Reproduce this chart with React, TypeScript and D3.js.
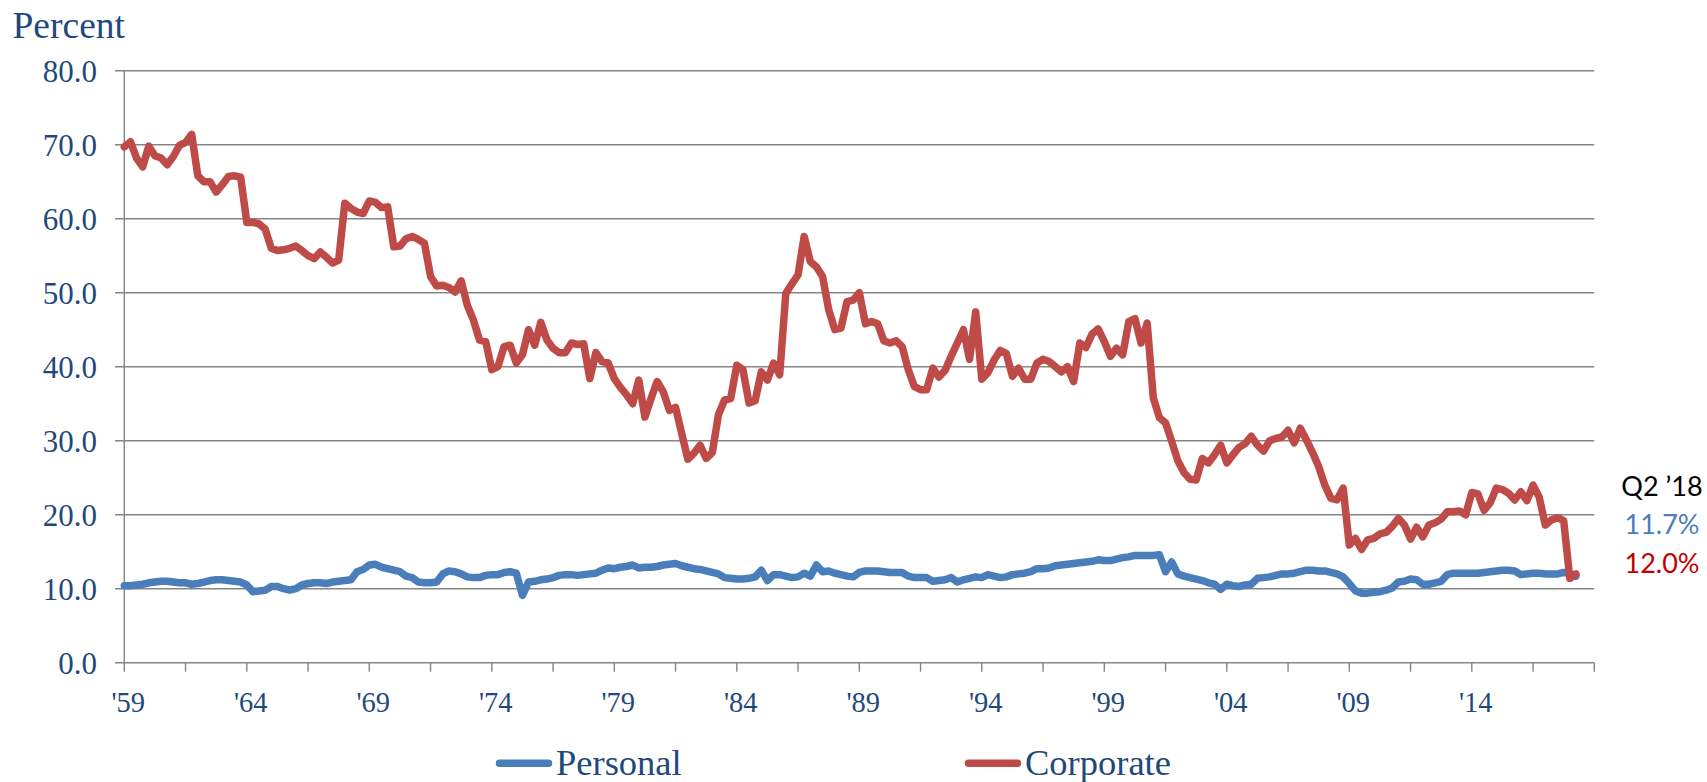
import React from "react";
import * as d3 from "d3";

// Quarterly effective tax rates, 1959 Q1 through 2018 Q2 (percent)
const personalRates: number[] = [
  10.4, 10.4, 10.5, 10.6, 10.8, 10.9, 11.0, 11.0, 10.9, 10.8,
  10.8, 10.6, 10.7, 10.9, 11.1, 11.2, 11.2, 11.1, 11.0, 10.9,
  10.5, 9.6, 9.7, 9.8, 10.3, 10.3, 10.0, 9.8, 10.0, 10.5,
  10.7, 10.8, 10.8, 10.7, 10.9, 11.0, 11.1, 11.2, 12.3, 12.6,
  13.2, 13.3, 12.9, 12.7, 12.5, 12.3, 11.7, 11.5, 10.9, 10.8,
  10.8, 10.9, 12.0, 12.4, 12.3, 12.0, 11.6, 11.5, 11.5, 11.8,
  11.9, 11.9, 12.2, 12.3, 12.1, 9.1, 10.9, 11.0, 11.2, 11.3,
  11.5, 11.8, 11.9, 11.9, 11.8, 11.9, 12.0, 12.1, 12.5, 12.8,
  12.7, 12.9, 13.0, 13.2, 12.8, 12.9, 12.9, 13.0, 13.2, 13.3,
  13.4, 13.1, 12.9, 12.7, 12.6, 12.4, 12.2, 12.0, 11.5, 11.4,
  11.3, 11.3, 11.4, 11.6, 12.5, 11.1, 11.9, 11.9, 11.7, 11.5,
  11.6, 12.1, 11.7, 13.2, 12.3, 12.4, 12.1, 11.9, 11.7, 11.6,
  12.2, 12.4, 12.4, 12.4, 12.3, 12.2, 12.2, 12.2, 11.7, 11.5,
  11.5, 11.5, 11.0, 11.1, 11.2, 11.5, 10.9, 11.2, 11.4, 11.6,
  11.5, 11.9, 11.7, 11.5, 11.6, 11.9, 12.0, 12.1, 12.3, 12.7,
  12.7, 12.8, 13.1, 13.2, 13.3, 13.4, 13.5, 13.6, 13.7, 13.9,
  13.8, 13.8, 14.0, 14.2, 14.3, 14.5, 14.5, 14.5, 14.5, 14.6,
  12.3, 13.6, 12.0, 11.7, 11.5, 11.3, 11.1, 10.8, 10.6, 9.9,
  10.6, 10.4, 10.3, 10.5, 10.6, 11.4, 11.5, 11.6, 11.8, 12.0,
  12.0, 12.1, 12.3, 12.5, 12.5, 12.4, 12.4, 12.2, 12.0, 11.6,
  10.7, 9.7, 9.4, 9.4, 9.5, 9.6, 9.8, 10.1, 10.9, 11.0,
  11.3, 11.2, 10.6, 10.6, 10.8, 11.0, 11.9, 12.1, 12.1, 12.1,
  12.1, 12.1, 12.2, 12.3, 12.4, 12.5, 12.5, 12.4, 11.9, 12.0,
  12.1, 12.1, 12.0, 12.0, 12.0, 12.2, 12.1, 11.7,
];

const corporateRates: number[] = [
  69.7, 70.4, 68.2, 67.0, 69.8, 68.5, 68.2, 67.3, 68.4, 69.9,
  70.3, 71.4, 65.8, 65.0, 65.0, 63.6, 64.6, 65.7, 65.8, 65.6,
  59.5, 59.5, 59.3, 58.6, 56.0, 55.7, 55.8, 56.0, 56.3, 55.7,
  55.0, 54.6, 55.5, 54.8, 54.0, 54.4, 62.1, 61.4, 60.9, 60.7,
  62.4, 62.2, 61.5, 61.6, 56.2, 56.3, 57.3, 57.6, 57.2, 56.7,
  52.2, 50.9, 51.0, 50.7, 50.1, 51.6, 48.3, 46.3, 43.6, 43.4,
  39.6, 40.0, 42.7, 42.9, 40.5, 41.6, 45.0, 42.9, 46.0, 43.6,
  42.5, 41.9, 41.9, 43.2, 43.0, 43.1, 38.4, 41.9, 40.7, 40.5,
  38.4, 37.2, 36.2, 35.0, 38.2, 33.2, 35.7, 38.0, 36.6, 34.1,
  34.5, 31.0, 27.5, 28.3, 29.4, 27.6, 28.4, 33.5, 35.5, 35.7,
  40.2, 39.6, 35.1, 35.4, 39.3, 38.2, 40.5, 38.9, 49.9, 51.2,
  52.4, 57.6, 54.2, 53.5, 52.2, 47.7, 45.0, 45.2, 48.8, 49.0,
  50.0, 45.8, 46.1, 45.8, 43.5, 43.2, 43.5, 42.7, 39.6, 37.3,
  36.9, 36.9, 39.8, 38.6, 39.5, 41.4, 43.2, 45.0, 41.0, 47.4,
  38.3, 39.2, 40.9, 42.2, 41.8, 38.7, 39.8, 38.3, 38.3, 40.5,
  41.0, 40.7, 40.0, 39.3, 40.0, 38.0, 43.2, 42.6, 44.4, 45.1,
  43.4, 41.4, 42.5, 41.6, 46.1, 46.5, 43.2, 45.9, 35.8, 33.1,
  32.4, 29.9, 27.3, 25.7, 24.8, 24.7, 27.6, 27.0, 28.1, 29.4,
  27.0, 28.1, 29.1, 29.6, 30.6, 29.4, 28.6, 30.0, 30.3, 30.5,
  31.4, 29.7, 31.7, 30.1, 28.4, 26.5, 24.0, 22.2, 22.0, 23.6,
  15.9, 16.8, 15.3, 16.6, 16.8, 17.4, 17.6, 18.4, 19.5, 18.6,
  16.7, 18.3, 17.0, 18.6, 18.9, 19.4, 20.4, 20.4, 20.5, 20.0,
  23.0, 22.8, 20.6, 21.6, 23.6, 23.4, 22.9, 22.0, 23.1, 21.9,
  24.0, 22.4, 18.6, 19.3, 19.6, 19.2, 11.4, 12.0,
];

// One label every 20 quarters, starting with 1959 Q1
const xTickLabels: string[] = [
  "'59", "'64", "'69", "'74", "'79", "'84", "'89", "'94", "'99", "'04", "'09", "'14",
];
const yTickValues: number[] = [0, 10, 20, 30, 40, 50, 60, 70, 80];
const seriesNames: string[] = ["Personal", "Corporate"];
const latestPeriod = "Q2 \u201918";

const WIDTH = 1707;
const HEIGHT = 782;
const PLOT = { left: 124.3, right: 1594.3, top: 70.7, bottom: 662.7 };
const QUARTER_SLOTS = 240;
const LABEL_EVERY = 20;
const MINOR_EVERY = 10;

const BLUE = "#4a7ebb";
const RED = "#be4b48";
const AXIS_GREY = "#868686";
const TEXT_BLUE = "#1f497d";
const SERIF = "'Liberation Serif', 'Times New Roman', serif";
const SANS = "Lato, 'Open Sans', sans-serif";
const LINE_WIDTH = 7.5;

export default function App() {
  const x = d3.scaleLinear().domain([0, QUARTER_SLOTS]).range([PLOT.left, PLOT.right]);
  const y = d3.scaleLinear().domain([0, 80]).range([PLOT.bottom, PLOT.top]);

  const line = d3
    .line<number>()
    .x((_, i) => x(i))
    .y((d) => y(d));

  const minorTicks = d3.range(0, QUARTER_SLOTS + 1, MINOR_EVERY);
  const lastPersonal = personalRates[personalRates.length - 1];
  const lastCorporate = corporateRates[corporateRates.length - 1];

  return (
    <svg
      width={WIDTH}
      height={HEIGHT}
      style={{ position: "absolute", left: 0, top: 0, display: "block", background: "#fff" }}
    >
      {/* horizontal gridlines, extended left as tick marks */}
      {yTickValues.map((v) => (
        <line
          key={`g${v}`}
          x1={115}
          x2={PLOT.right}
          y1={y(v)}
          y2={y(v)}
          stroke={AXIS_GREY}
          strokeWidth={1.4}
        />
      ))}
      {/* vertical axis */}
      <line x1={PLOT.left} x2={PLOT.left} y1={PLOT.top} y2={PLOT.bottom} stroke={AXIS_GREY} strokeWidth={1.4} />
      {/* category tick marks */}
      {minorTicks.map((t) => (
        <line
          key={`t${t}`}
          x1={x(t)}
          x2={x(t)}
          y1={PLOT.bottom}
          y2={PLOT.bottom + 9}
          stroke={AXIS_GREY}
          strokeWidth={1.4}
        />
      ))}

      {/* y tick labels */}
      {yTickValues.map((v) => (
        <text
          key={`yl${v}`}
          x={97}
          y={y(v) + 10.8}
          textAnchor="end"
          fontFamily={SERIF}
          fontSize={31}
          fill={TEXT_BLUE}
        >
          {v.toFixed(1)}
        </text>
      ))}
      <text x={12.5} y={38.3} fontFamily={SERIF} fontSize={37.5} fill={TEXT_BLUE}>
        Percent
      </text>

      {/* x tick labels */}
      {xTickLabels.map((lab, k) => (
        <text
          key={lab}
          x={x(k * LABEL_EVERY) + 4}
          y={711.7}
          textAnchor="middle"
          fontFamily={SERIF}
          fontSize={28.5}
          fill={TEXT_BLUE}
        >
          {lab}
        </text>
      ))}

      {/* series */}
      <path
        d={line(personalRates) ?? ""}
        fill="none"
        stroke={BLUE}
        strokeWidth={LINE_WIDTH}
        strokeLinejoin="round"
        strokeLinecap="round"
      />
      <path
        d={line(corporateRates) ?? ""}
        fill="none"
        stroke={RED}
        strokeWidth={LINE_WIDTH}
        strokeLinejoin="round"
        strokeLinecap="round"
      />

      {/* latest values */}
      <text x={1662} y={496} textAnchor="middle" fontFamily={SANS} fontSize={27} fill="#000">
        {latestPeriod}
      </text>
      <text x={1662} y={534} textAnchor="middle" fontFamily={SANS} fontSize={27} fill={BLUE}>
        {`${lastPersonal.toFixed(1)}%`}
      </text>
      <text x={1662} y={572.5} textAnchor="middle" fontFamily={SANS} fontSize={27} fill="#c00000">
        {`${lastCorporate.toFixed(1)}%`}
      </text>

      {/* legend */}
      {[
        { name: seriesNames[0], color: BLUE, x0: 496 },
        { name: seriesNames[1], color: RED, x0: 965 },
      ].map((item) => (
        <g key={item.name}>
          <line
            x1={item.x0 + 3.5}
            x2={item.x0 + 52.5}
            y1={763.3}
            y2={763.3}
            stroke={item.color}
            strokeWidth={LINE_WIDTH}
            strokeLinecap="round"
          />
          <text x={item.x0 + 60} y={775} fontFamily={SERIF} fontSize={36.5} fill={TEXT_BLUE}>
            {item.name}
          </text>
        </g>
      ))}
    </svg>
  );
}
